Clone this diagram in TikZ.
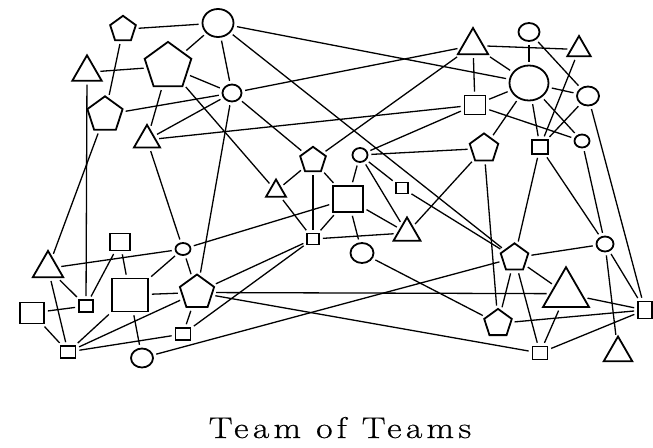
\documentclass[tikz,border=0pt]{standalone}
\usepackage{fontspec}
\usepackage{graphicx}
\usetikzlibrary{shapes.geometric}
\newfontfamily\titlefont[LetterSpace=12,FakeBold=0.6]{Latin Modern Roman}
\tikzset{
  shp/.style={draw=black, line width=1.8pt, inner sep=0pt, fill=white},
  pent/.style={shp, regular polygon, regular polygon sides=5, minimum size=#1},
  tri/.style={shp, regular polygon, regular polygon sides=3, minimum size=#1},
  sq/.style={shp, rectangle},
  circ/.style={shp, ellipse},
  link/.style={line width=1.3pt, shorten >=3pt, shorten <=3pt}
}
\begin{document}
\begin{tikzpicture}[x=1pt,y=-1pt]
\useasboundingbox (0,0) rectangle (653,447);
% pentagons
\node[pent=27] (P1) at (123,29.3) {};
\node[pent=49] (P2) at (168,66.4) {};
\node[pent=37] (P3) at (105,114.8) {};
\node[pent=30] (P4) at (484,148.4) {};
\node[pent=27] (P5) at (313,160.3) {};
\node[pent=36] (P6) at (197,292.5) {};
\node[pent=29] (P7) at (514.5,257.8) {};
\node[pent=29] (P8) at (498,323.4) {};
% triangles
\node[tri=34] (T1) at (87,72.3) {};
\node[tri=30] (T2) at (147,139.9) {};
\node[tri=35] (T3) at (473,45.5) {};
\node[tri=27] (T4) at (579,49.5) {};
\node[tri=23] (T5) at (276,191) {};
\node[tri=31] (T6) at (407,232.9) {};
\node[tri=35] (T7) at (48,268.4) {};
\node[tri=53] (T8) at (566,293.7) {};
\node[tri=33] (T9) at (618,353) {};
% circles
\node[circ, minimum width=31, minimum height=28] (C1) at (218,23) {};
\node[circ, minimum width=19, minimum height=17] (C2) at (232,93) {};
\node[circ, minimum width=21, minimum height=18] (C3) at (529,32) {};
\node[circ, minimum width=39, minimum height=35] (C4) at (529,83) {};
\node[circ, minimum width=22, minimum height=19] (C5) at (588,96) {};
\node[circ, minimum width=15, minimum height=13] (C6) at (582,141) {};
\node[circ, minimum width=15, minimum height=14] (C7) at (360,155) {};
\node[circ, minimum width=23, minimum height=20] (C8) at (362,253) {};
\node[circ, minimum width=15, minimum height=12] (C9) at (183,249) {};
\node[circ, minimum width=22, minimum height=19] (C10) at (142,358) {};
\node[circ, minimum width=17, minimum height=15] (C11) at (605,244) {};
% squares
\node[sq, minimum width=21, minimum height=19] (S1) at (475,105) {};
\node[sq, minimum width=16, minimum height=14] (S2) at (540,147) {};
\node[sq, minimum width=12, minimum height=11] (S3) at (402,188) {};
\node[sq, minimum width=30, minimum height=26] (S4) at (348,199) {};
\node[sq, minimum width=12, minimum height=11] (S5) at (313,239) {};
\node[sq, minimum width=20, minimum height=17] (S6) at (120,242) {};
\node[sq, minimum width=36, minimum height=33] (S7) at (130,295) {};
\node[sq, minimum width=14, minimum height=12] (S8) at (86,306) {};
\node[sq, minimum width=24, minimum height=21] (S9) at (32,313) {};
\node[sq, minimum width=15, minimum height=12] (S10) at (68,352) {};
\node[sq, minimum width=15, minimum height=12] (S11) at (183,334) {};
\node[sq, minimum width=14, minimum height=17] (S12) at (645,310) {};
\node[sq, minimum width=15, minimum height=13] (S13) at (540,353) {};
% connectors
\foreach \a/\b in {P1/C1, P1/P3, T1/P2, T1/S8, C1/P2, C1/C2, C1/C4, C1/P7,
  P2/C2, P2/T5, P2/T2, P3/C2, P3/T7, T2/C2, T2/S1, T2/C9, C2/T3, C2/P5, C2/P6,
  P5/T3, C7/S1, C7/P4, C7/S3, C7/S4, C7/T6, P5/T5, P5/S5, P5/S4, T5/S5,
  T3/T4, C3/C4, T3/C4, T3/S1, C3/C5, T4/S2, C4/C5, S1/C4, S1/C6, C4/P4,
  C4/S2, C4/C6, C5/S2, C5/S12, P4/T6, P4/P8, S2/P7, S2/C11, C6/C11,
  S4/T6, S5/T6, S5/S4, S4/C8, S4/C9, S5/P6, S5/S11, C8/P8, S3/P7, C10/P7,
  P6/T8, P6/S13, T7/C9, T7/S8, T7/S10, S6/S8, S6/S7, S9/S8, S9/S10, S7/C9,
  C9/P6, S7/P6, P6/S11, S10/S11, S10/S7, S10/P6, S7/C10, P7/C11, P7/T8,
  P7/P8, P7/S13, C11/S12, C11/T9, T8/S12, P8/S12, S13/S12, S13/T8}
  \draw[link] (\a) -- (\b);
\node[anchor=base, inner sep=0pt] (title) at (340,438)
  {\scalebox{1.19}[1]{\titlefont\fontsize{30}{36}\selectfont Team of Teams}};
\end{tikzpicture}
\end{document}
